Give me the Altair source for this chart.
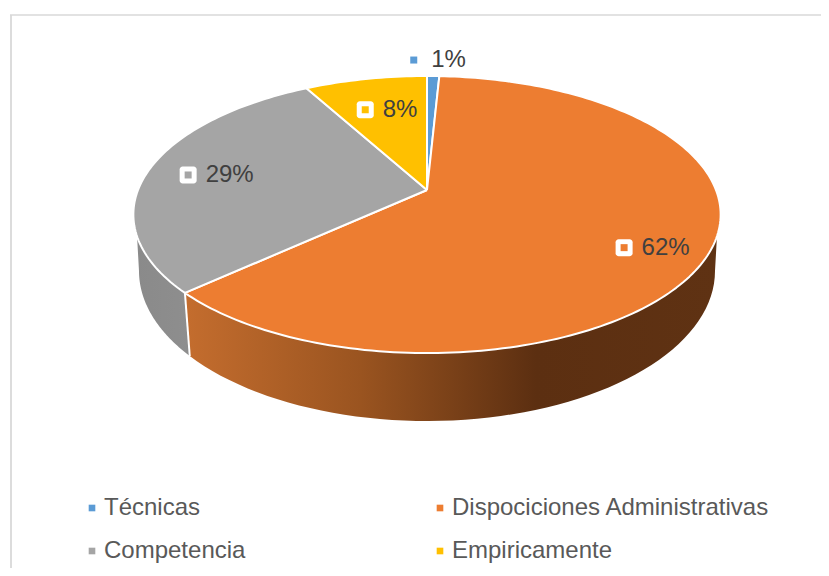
import math
import altair as alt
import pandas as pd

categories = ["Técnicas", "Dispociciones Administrativas", "Competencia", "Empiricamente"]
shares = [0.8, 62.4, 28.8, 8.0]
colors = ["#5B9BD5", "#ED7D31", "#A5A5A5", "#FFC000"]
legend_order = ["Técnicas", "Competencia", "Dispociciones Administrativas", "Empiricamente"]

W, H = 813, 560
CX, APEX_Y = 427.0, 190.0
A, B, K = 289.0, 134.2, 0.177
# lower rim of the disc
BOT_A, BOT_B, BOT_CY = 288.0, 150.0, 271.0
WALL_START, WALL_END = 109.0, 251.0


def top_rim(deg, r=1.0):
    t = math.radians(deg)
    u, v = r * math.sin(t), r * math.cos(t)
    d = 1 + K * v
    return CX + A * u / d, APEX_Y - B * v / d


def bottom_rim_at_x(x):
    dx = (x - CX) / BOT_A
    return BOT_CY + BOT_B * math.sqrt(max(0.0, 1 - dx * dx))


def bottom_rim(phi):
    p = math.radians(phi)
    return CX + BOT_A * math.sin(p), BOT_CY - BOT_B * math.cos(p)


# top faces
rows = []
cum = 0.0
edges = []
for cat, s in zip(categories, shares):
    a0, a1 = cum * 3.6, (cum + s) * 3.6
    edges.append((a0, a1))
    n = max(4, int(s * 3))
    pts = [(CX, APEX_Y)] + [top_rim(a0 + (a1 - a0) * i / n) for i in range(n + 1)] + [(CX, APEX_Y)]
    rows += [{"cat": cat, "o": i, "x": p[0], "y": p[1]} for i, p in enumerate(pts)]
    cum += s
faces = pd.DataFrame(rows)

seam_deg = edges[1][1]
seam_top = top_rim(seam_deg)
seam_bot_x = CX + (seam_top[0] - CX) * 0.98
seam_bot = (seam_bot_x, bottom_rim_at_x(seam_bot_x))
seam_phi = 180 + math.degrees(math.asin((CX - seam_bot_x) / BOT_A))


def wall(a0, a1, phi0, phi1):
    n = 60
    pts = [top_rim(a0 + (a1 - a0) * i / n) for i in range(n + 1)]
    pts += [bottom_rim(phi1 + (phi0 - phi1) * i / n) for i in range(n + 1)]
    pts.append(pts[0])
    return pd.DataFrame([{"o": i, "x": p[0], "y": p[1]} for i, p in enumerate(pts)])


wall_orange = wall(WALL_START, seam_deg, 90, seam_phi)
wall_gray = wall(seam_deg, WALL_END, seam_phi, 270)
seam = pd.DataFrame({"o": [0, 1], "x": [seam_top[0], seam_bot[0]], "y": [seam_top[1], seam_bot[1]]})

# data labels
label_r = [1.18, 0.80, 0.75, 0.70]
label_dx = [1.5, 3, -1, 5]
label_dy = [1, 9, 1, 1]
lab = []
cum = 0.0
for cat, s, c, r, dx, dy in zip(categories, shares, colors, label_r, label_dx, label_dy):
    x, y = top_rim((cum + s / 2) * 3.6, r)
    txt = f"{round(s)}%"
    w = 26 + 24 * (0.556 * (len(txt) - 1) + 0.889)
    lab.append({"cat": cat, "txt": txt, "mx": x + dx - w / 2 + 8.5, "tx": x + dx - w / 2 + 26, "y": y + dy, "solo": r > 1})
    cum += s
labels = pd.DataFrame(lab)

xs = alt.Scale(domain=[8, 8 + W], nice=False, zero=False)
ys = alt.Scale(domain=[8 + H, 8], nice=False, zero=False)
X = alt.X("x:Q", scale=xs, axis=None)
Y = alt.Y("y:Q", scale=ys, axis=None)
fill_scale = alt.Scale(domain=legend_order, range=[colors[categories.index(c)] for c in legend_order])

orange_grad = alt.LinearGradient(
    gradient="linear", x1=0, x2=1, y1=0, y2=0,
    stops=[
        alt.GradientStop(color="#C46D2E", offset=0),
        alt.GradientStop(color="#9A5420", offset=0.33),
        alt.GradientStop(color="#5C2F11", offset=0.66),
        alt.GradientStop(color="#5F3213", offset=1),
    ],
)
gray_grad = alt.LinearGradient(
    gradient="linear", x1=0, x2=1, y1=0, y2=0,
    stops=[
        alt.GradientStop(color="#8A8A8A", offset=0),
        alt.GradientStop(color="#8E8E8E", offset=1),
    ],
)

frame_left = alt.Chart(pd.DataFrame({"a": [0]})).mark_rule(color="#DCDCDC", strokeWidth=2).encode(
    x=alt.value(3), y=alt.value(7), y2=alt.value(H))
frame_top = alt.Chart(pd.DataFrame({"a": [0]})).mark_rule(color="#D9D9D9", strokeWidth=1.5).encode(
    x=alt.value(2), x2=alt.value(W), y=alt.value(7))

w1 = alt.Chart(wall_orange).mark_line(fill=orange_grad, strokeWidth=0, stroke="#5C2F11", strokeOpacity=0).encode(x=X, y=Y, order="o:Q")
w2 = alt.Chart(wall_gray).mark_line(fill=gray_grad, strokeWidth=0, stroke="#8A8A8A", strokeOpacity=0).encode(x=X, y=Y, order="o:Q")
seam_line = alt.Chart(seam).mark_line(stroke="white", strokeWidth=2).encode(x=X, y=Y, order="o:Q")

top = alt.Chart(faces).mark_line(stroke="white", strokeWidth=2, strokeJoin="round").encode(
    x=X, y=Y, order="o:Q",
    fill=alt.Fill(
        "cat:N", scale=fill_scale,
        legend=alt.Legend(
            title=None, orient="none", legendX=72, legendY=488, columns=2,
            symbolType="square", symbolSize=44, symbolStrokeWidth=0,
            labelFont="Liberation Sans", labelFontSize=24, labelColor="#595959",
            labelOffset=0, rowPadding=19, columnPadding=182, labelLimit=400,
            symbolOpacity=1,
        ),
    ),
)

mk_white = alt.Chart(labels[~labels.solo]).mark_rect(width=17, height=17, cornerRadius=3, fill="white").encode(
    x=alt.X("mx:Q", scale=xs, axis=None), y=alt.Y("y:Q", scale=ys, axis=None))
mk_col = alt.Chart(labels).mark_rect(width=7, height=7).encode(
    x=alt.X("mx:Q", scale=xs, axis=None), y=alt.Y("y:Q", scale=ys, axis=None),
    fill=alt.Fill("cat:N", scale=fill_scale, legend=None))
txt = alt.Chart(labels).mark_text(align="left", baseline="middle", font="Liberation Sans", fontSize=24, color="#404040").encode(
    x=alt.X("tx:Q", scale=xs, axis=None), y=alt.Y("y:Q", scale=ys, axis=None), text="txt:N")

chart = alt.layer(frame_left, frame_top, w1, w2, seam_line, top, mk_white, mk_col, txt).properties(
    width=W, height=H, padding=0, autosize=alt.AutoSizeParams(type="none"),
).configure_view(stroke=None)

chart.save("out.html", embed_options={"renderer": "svg", "actions": False})
